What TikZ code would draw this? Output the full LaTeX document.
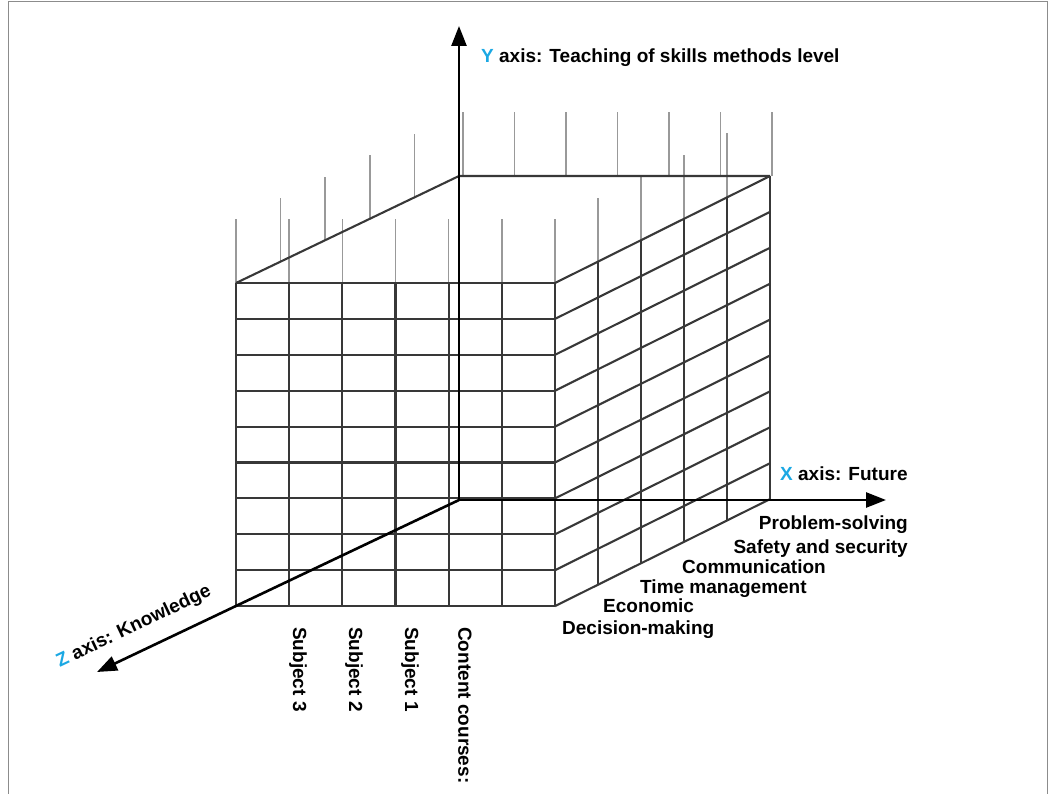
\documentclass[tikz,border=0pt]{standalone}
\usepackage{fontspec}
\setmainfont{Liberation Sans}
\usetikzlibrary{arrows.meta,calc}
\definecolor{axiscyan}{HTML}{1BA8E3}

\begin{document}
\begin{tikzpicture}[x=1pt,y=-1pt,
  gridl/.style={draw=black!78, line width=2.1pt},
  stub/.style={draw=black!40, line width=1.5pt},
  axisarr/.style={line width=2.6pt, -{Triangle[length=20pt,width=15pt]}},
  lab/.style={font=\bfseries\fontsize{19}{21}\selectfont, inner sep=0pt},
  vlab/.style={lab, rotate=-90, anchor=west}]
  \useasboundingbox (0,0) rectangle (1056,794);
  \draw[black!45, line width=1pt] (8.5,794) -- (8.5,1.5) -- (1047,1.5) -- (1047,794);

  % thin stubs above the top face
  \foreach \i in {0,...,6} \draw[stub] ({236+53.17*\i},283) -- ++(0,-64);
  \foreach \k in {1,...,4} \draw[stub] ({236+44.6*\k},{283-21.2*\k}) -- ++(0,-64);
  \foreach \k in {1,...,4} \draw[stub] ({555+43*\k},{283-21.4*\k}) -- ++(0,-64);
  \foreach \i in {0,...,6} \draw[stub] ({463+51.5*\i},176) -- ++(0,-64);

  % front face
  \foreach \i in {0,...,6} \draw[gridl] ({236+53.17*\i},283) -- ({236+53.17*\i},606);
  \foreach \j in {0,...,9} \draw[gridl] (236,{283+35.9*\j}) -- (555,{283+35.9*\j});
  % right face
  \foreach \k in {1,...,5} \draw[gridl] ({555+43*\k},{283-21.4*\k}) -- ({555+43*\k},{606-21.4*\k});
  \foreach \j in {0,...,9} \draw[gridl] (555,{283+35.9*\j}) -- (770,{176+35.9*\j});
  % top face
  \draw[gridl] (236,283) -- (459,176) -- (770,176);

  % axes
  \coordinate (orig) at (459,500);
  \coordinate (ytip) at (459,26);
  \coordinate (xtip) at (886,500);
  \coordinate (ztip) at (97,672);
  \draw[axisarr] (orig) -- (ytip);
  \draw[axisarr] (orig) -- (xtip);
  \draw[axisarr] (orig) -- (ztip);

  \node[lab, anchor=base west] (ylab) at (481,63) {\textcolor{axiscyan}{Y} axis: Teaching of skills methods level};
  \node[lab, anchor=base west] (xlab) at (780,480) {\textcolor{axiscyan}{X} axis: Future};
  \node[lab, rotate=25.4] (zlab) at (134,627) {\textcolor{axiscyan}{Z} axis: Knowledge};

  \node[lab, anchor=base east] (solve) at (908,529) {Problem-solving};
  \node[lab, anchor=base east] (safety) at (908,553) {Safety and security};
  \node[lab, anchor=base west] (comm) at (682,573) {Communication};
  \node[lab, anchor=base west] (timem) at (640,593) {Time management};
  \node[lab, anchor=base west] (econ) at (603,612) {Economic};
  \node[lab, anchor=base west] (decide) at (562,634) {Decision-making};

  \node[vlab] (subc) at (298,627) {Subject 3};
  \node[vlab] (subb) at (354,627) {Subject 2};
  \node[vlab] (suba) at (410,627) {Subject 1};
  \node[vlab] (content) at (465,627) {Content courses:};
\end{tikzpicture}
\end{document}
